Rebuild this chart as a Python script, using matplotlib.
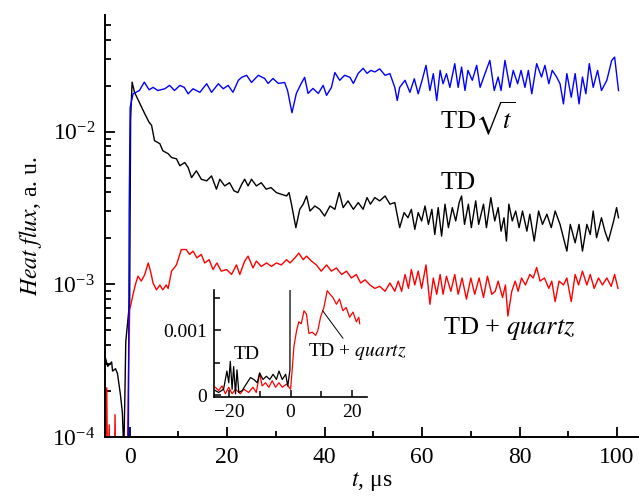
import numpy as np
import matplotlib.pyplot as plt
from matplotlib.ticker import MultipleLocator, NullFormatter

plt.rcParams['font.family'] = ['Liberation Serif', 'DejaVu Serif']
plt.rcParams['mathtext.fontset'] = 'stix'

# heat flux values in units of 1e-3 a.u., time in microseconds
t_sqrt = [-0.3, -0.1, 0.1, 0.7, 2.0, 3.0, 4.0, 4.8, 5.8, 7.2, 8.2, 9.2, 10.3, 11.2, 12.0, 13.0,
          14.4, 15.8, 16.8, 18.2, 19.2, 20.2, 21.2, 22.3, 23.0, 24.0, 25.0, 26.4, 27.7, 28.4,
          29.4, 30.5, 31.8, 32.4, 33.3, 34.2, 35.2, 35.9, 36.6, 37.6, 38.7, 39.7, 40.4, 41.4,
          42.1, 43.1, 44.1, 45.2, 45.9, 46.9, 47.9, 48.7, 49.5, 50.3, 51.3, 52.4, 53.4, 54.4,
          54.9, 55.4, 56.5, 57.5, 58.4, 59.2, 60.0, 60.8, 61.6, 62.3, 63.0, 63.7, 64.3, 65.0,
          65.7, 66.7, 67.4, 68.1, 68.8, 69.4, 70.3, 71.2, 71.9, 72.9, 73.9, 74.8, 75.6, 76.2,
          77.0, 78.0, 78.7, 79.6, 80.3, 81.1, 81.8, 82.5, 83.5, 84.5, 85.2, 86.0, 86.7, 87.6,
          88.3, 89.0, 89.7, 90.6, 91.4, 92.2, 92.9, 93.6, 94.3, 95.1, 96.0, 96.8, 97.9, 98.9,
          99.5, 100.3]
q_sqrt = [0.05, 3.0, 14.4, 17.7, 18.6, 21.1, 18.8, 19.5, 18.6, 19.1, 20.1, 18.6, 20.1, 19.5, 17.7, 19.1,
          18.1, 20.6, 18.1, 20.6, 19.1, 20.1, 18.1, 21.7, 22.7, 23.4, 21.0, 23.4, 22.3, 20.7,
          22.3, 20.7, 21.0, 18.6, 13.3, 17.8, 20.7, 22.7, 17.8, 19.2, 17.8, 20.1, 17.3, 19.5,
          24.4, 21.7, 23.4, 22.7, 20.7, 24.1, 26.0, 24.1, 25.2, 24.6, 25.8, 23.4, 24.0, 19.5,
          16.0, 19.5, 21.7, 18.1, 22.2, 17.7, 21.7, 27.2, 18.6, 24.0, 16.0, 25.2, 20.6, 24.0,
          19.5, 27.9, 19.5, 26.5, 18.6, 25.2, 21.7, 27.2, 19.5, 24.0, 29.3, 18.6, 22.8, 18.6,
          29.3, 19.5, 25.2, 20.6, 25.2, 19.5, 25.2, 17.7, 27.9, 22.8, 27.2, 20.6, 25.2, 22.8,
          20.6, 15.2, 24.0, 16.8, 24.0, 15.2, 22.8, 17.7, 27.9, 19.5, 25.2, 18.6, 21.7, 29.3,
          30.8, 18.6]

t_td = [-5.3, -4.5, -3.7, -3.5, -2.9, -2.5, -1.9, -1.5, -1.2, -1.0, -0.8, -0.4, 0.0, 0.2, 0.5,
        1.0, 2.1, 3.1, 4.0, 4.5, 5.1, 6.2, 6.8, 7.9, 8.6, 9.6, 10.3, 11.3, 12.0, 12.7, 13.7,
        14.7, 15.8, 16.8, 17.8, 18.5, 19.5, 20.5, 21.4, 22.2, 23.0, 23.6, 24.3, 25.0, 26.0,
        27.0, 28.0, 29.0, 30.1, 31.1, 32.2, 32.7, 33.2, 34.1, 34.9, 35.6, 36.3, 37.0, 38.0,
        39.0, 40.0, 41.1, 42.1, 43.0, 43.8, 44.8, 45.9, 46.9, 47.9, 48.7, 49.4, 50.3, 51.3,
        52.4, 53.4, 54.4, 55.4, 56.3, 57.1, 57.8, 58.5, 59.2, 59.9, 60.6, 61.3, 62.0, 62.6,
        63.3, 64.0, 64.7, 65.4, 66.2, 66.9, 67.6, 68.1, 68.7, 69.5, 70.1, 71.0, 71.6, 72.6,
        73.2, 74.1, 74.9, 75.6, 76.2, 76.8, 77.3, 77.8, 78.5, 79.2, 79.9, 80.6, 81.5, 82.1,
        83.0, 83.9, 84.7, 85.6, 86.5, 87.3, 88.3, 89.0, 89.7, 90.4, 91.4, 92.2, 92.9, 93.8,
        94.5, 95.1, 95.8, 96.8, 97.5, 98.2, 99.3, 99.9, 100.3]
q_td = [0.36, 0.29, 0.31, 0.27, 0.28, 0.26, 0.19, 0.145, 0.08, 0.17, 0.42, 0.57, 0.77, 12.0, 21.1,
        18.1, 15.3, 13.1, 11.5, 11.0, 8.73, 8.34, 7.5, 7.17, 6.77, 6.64, 5.98, 6.28, 5.82, 5.0, 5.54,
        4.88, 4.76, 5.13, 4.20, 4.88, 4.41, 4.63, 4.10, 3.99, 4.53, 4.88, 4.41, 4.88, 4.41,
        4.63, 4.20, 4.30, 3.99, 3.89, 3.79, 3.99, 3.35, 2.35, 3.10, 3.35, 3.79, 3.02, 3.26,
        3.10, 2.80, 3.26, 3.10, 3.99, 3.18, 3.52, 3.10, 3.43, 3.10, 3.70, 3.35, 3.70, 3.52,
        3.79, 3.35, 3.43, 2.35, 2.95, 2.73, 3.10, 2.29, 2.95, 2.60, 3.26, 2.47, 3.10, 2.12,
        3.18, 2.07, 3.35, 2.35, 3.18, 2.60, 3.43, 3.79, 2.47, 3.35, 2.35, 3.52, 2.47, 3.35,
        2.35, 3.70, 2.60, 3.18, 2.23, 2.73, 1.92, 3.35, 2.60, 3.02, 2.35, 3.02, 2.23, 2.88,
        1.92, 3.02, 2.47, 2.88, 2.35, 3.02, 2.47, 2.02, 1.65, 2.47, 1.87, 2.47, 1.65, 2.47,
        2.12, 3.02, 2.02, 2.73, 2.23, 1.92, 2.60, 3.18, 2.73]

t_quartz = [-5.2, -4.7, -4.5, -4.2, -4.0, -3.2, -3.0, -2.8, -0.6, -0.2, 0.0, 0.7, 1.2, 1.7, 2.4,
            3.1, 3.8, 4.2, 4.8, 5.5, 6.2, 6.8, 7.5, 7.9, 8.6, 9.6, 10.6, 11.6, 12.3, 13.0, 13.8,
            14.7, 15.4, 16.3, 17.1, 17.9, 18.8, 19.9, 20.9, 21.9, 22.6, 23.6, 24.3, 25.3, 26.0,
            27.0, 28.1, 29.1, 30.1, 31.1, 32.2, 32.9, 33.9, 34.7, 35.6, 36.3, 37.3, 38.3, 39.3,
            40.4, 41.4, 42.4, 43.5, 44.5, 45.5, 46.5, 47.4, 48.3, 49.3, 50.3, 51.3, 52.4, 53.4,
            54.4, 55.1, 55.8, 56.5, 57.2, 57.8, 58.5, 59.2, 59.9, 60.8, 61.6, 62.3, 63.0, 63.7,
            64.3, 65.0, 65.9, 66.7, 67.4, 68.2, 69.1, 70.0, 70.8, 71.7, 72.6, 73.4, 74.3, 75.0,
            75.6, 76.5, 77.1, 77.6, 78.4, 79.1, 79.7, 80.4, 81.2, 82.1, 82.8, 83.5, 84.2, 85.1,
            86.0, 86.6, 87.3, 88.1, 89.0, 89.7, 90.6, 91.4, 92.1, 92.9, 93.8, 94.5, 95.3, 96.2,
            97.0, 97.9, 98.8, 99.5, 100.2]
q_quartz = [0.04, 0.21, 0.04, 0.12, 0.04, 0.04, 0.14, 0.04, 0.04, 0.3, 0.68, 0.86, 1.0, 1.13, 1.05,
            1.16, 1.38, 1.25, 1.02, 0.92, 0.99, 0.92, 0.99, 0.94, 1.22, 1.34, 1.69, 1.69, 1.57, 1.65, 1.49,
            1.57, 1.38, 1.45, 1.25, 1.38, 1.22, 1.25, 1.16, 1.34, 1.16, 1.42, 1.53, 1.28, 1.42,
            1.31, 1.38, 1.31, 1.38, 1.34, 1.45, 1.38, 1.49, 1.60, 1.45, 1.53, 1.42, 1.34, 1.22,
            1.34, 1.22, 1.28, 1.16, 1.22, 1.10, 1.16, 1.02, 1.07, 0.99, 0.94, 0.97, 0.90, 1.02,
            0.90, 1.05, 0.90, 1.16, 0.94, 1.25, 0.99, 1.22, 0.94, 1.34, 0.74, 1.10, 0.86, 1.16,
            0.86, 1.13, 0.90, 1.16, 0.86, 1.10, 0.80, 1.10, 0.86, 1.10, 0.82, 1.13, 0.86, 0.90,
            1.05, 0.82, 0.99, 0.62, 0.90, 1.05, 0.90, 1.10, 0.99, 1.16, 1.10, 1.29, 1.05, 1.10,
            0.94, 1.05, 0.77, 1.05, 0.99, 1.10, 0.77, 1.16, 0.99, 1.22, 0.99, 1.16, 0.94, 1.10,
            0.99, 1.10, 0.97, 1.16, 0.94]

# inset (linear scale, early times)
ti_td = [-24.6, -23.5, -21.9, -20.8, -20.2, -19.7, -19.1, -18.6, -18.0, -17.5, -16.9, -15.8,
         -14.2, -13.1, -12.0, -10.9, -10.1, -9.0, -7.9, -6.8, -5.7, -4.6, -3.8, -2.7, -1.6,
         -0.9, -0.2, 0.4]
qi_td = [0.07, 0.04, 0.09, 0.37, 0.19, 0.52, 0.09, 0.44, 0.02, 0.39, 0.04, 0.07,
         0.19, 0.27, 0.24, 0.19, 0.34, 0.24, 0.29, 0.24, 0.32, 0.24, 0.37, 0.24, 0.32,
         0.14, 0.39, 21.0]
ti_q = [-24.6, -23.5, -22.4, -21.3, -20.2, -19.1, -18.0, -16.4, -15.3, -13.7, -12.3, -11.2,
        -10.1, -9.3, -8.2, -7.1, -6.0, -4.9, -3.8, -2.7, -1.3, 0.0, 0.5, 1.1, 2.0, 2.7, 3.5,
        4.4, 5.2, 6.0, 7.1, 8.2, 8.9, 9.8, 10.9, 12.0, 12.8, 13.9, 15.0, 16.0, 17.1, 18.2,
        19.3, 20.4, 21.5, 22.3, 22.6]
qi_q = [0.12, 0.07, 0.14, 0.02, 0.12, 0.02, 0.09, 0.02, 0.09, 0.04, 0.12, 0.04,
        0.34, 0.14, 0.19, 0.12, 0.22, 0.12, 0.19, 0.12, 0.17, 0.09, 0.37, 0.75, 1.0, 1.13, 1.10,
        1.30, 1.25, 0.95, 0.97, 0.92, 0.99, 1.20, 1.35, 1.61, 1.56, 1.50, 1.40, 1.48, 1.30, 1.35,
        1.20, 1.28, 1.13, 1.20, 1.10]

fig = plt.figure(figsize=(6.39, 5.04), dpi=100)
ax = fig.add_axes([0.164, 0.133, 0.836, 0.837])

ax.plot(t_quartz, np.array(q_quartz) * 1e-3, color='#ff0000', lw=1.0)
ax.plot(t_td, np.array(q_td) * 1e-3, color='black', lw=1.0)
ax.plot(t_sqrt, np.array(q_sqrt) * 1e-3, color='#0000ff', lw=1.0)

ax.set_yscale('log')
ax.set_ylim(1e-4, 0.058)
ax.set_xlim(-5.1, 104.5)
for s in ['top', 'right']:
    ax.spines[s].set_visible(False)
for s in ['left', 'bottom']:
    ax.spines[s].set_linewidth(1.4)
ax.xaxis.set_major_locator(MultipleLocator(20))
ax.xaxis.set_minor_locator(MultipleLocator(10))
ax.yaxis.set_minor_formatter(NullFormatter())
ax.tick_params(which='both', direction='in', labelsize=17, width=1.3)
ax.tick_params(which='major', length=7, pad=7)
ax.tick_params(which='minor', length=4.5)

ax.set_xlabel(r'$\mathit{t}$, μs', fontsize=17, labelpad=2)
ax.set_ylabel(r'$\mathit{Heat\ flux}$, a. u.', fontsize=17, labelpad=6)

ax.text(63.7, 12.2e-3, r'TD$\sqrt{t}$', fontsize=19, va='center')
ax.text(63.7, 4.62e-3, 'TD', fontsize=19, va='center')
ax.text(64.3, 0.51e-3, r'TD + $\mathit{quartz}$', fontsize=19, va='center')

# inset
axin = fig.add_axes([0.335, 0.2123, 0.2394, 0.2123])
axin.patch.set_alpha(0)
axin.plot(ti_q, np.array(qi_q) * 1e-3, color='#ff0000', lw=0.9)
axin.plot(ti_td, np.array(qi_td) * 1e-3, color='black', lw=0.9)
axin.set_xlim(-25, 25)
axin.set_ylim(-0.00003, 0.00162)
for s in ['top', 'right']:
    axin.spines[s].set_visible(False)
for s in ['left', 'bottom']:
    axin.spines[s].set_linewidth(1.2)
axin.xaxis.set_major_locator(MultipleLocator(20))
axin.xaxis.set_minor_locator(MultipleLocator(10))
axin.set_yticks([0, 0.001], ['0', '0.001'])
axin.set_yticks([0.0005, 0.0015], minor=True)
axin.tick_params(which='both', direction='in', labelsize=14, width=1.1)
axin.tick_params(which='major', length=5, pad=5)
axin.tick_params(which='minor', length=4)

axin.text(-14.4, 0.62e-3, 'TD', fontsize=14, ha='center', va='center')
axin.annotate(r'TD + $\mathit{quartz}$', xy=(10.5, 1.30e-3), xytext=(5.6, 0.67e-3),
              fontsize=14, va='center', annotation_clip=False,
              arrowprops=dict(arrowstyle='-', lw=0.7, color='black', shrinkA=0, shrinkB=0,
                              relpos=(0.38, 1.0)))

fig.savefig('out.png', dpi=100)
